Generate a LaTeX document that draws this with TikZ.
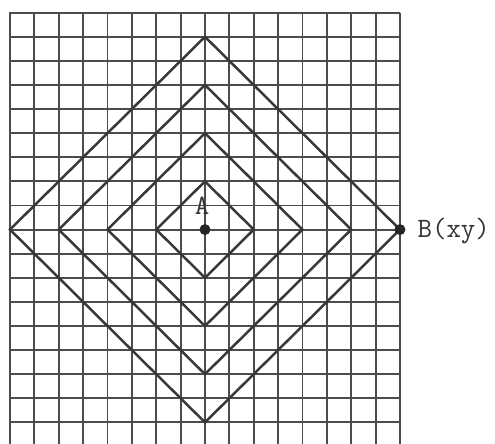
\documentclass[tikz,border=0pt]{standalone}
\begin{document}
\begin{tikzpicture}[x=24.375pt,y=24.1pt,
  gridline/.style={draw=black!70,line width=1.9pt},
  diamondline/.style={draw=black!78,line width=2.5pt,line join=miter},
  dotnode/.style={circle,fill=black!85,inner sep=0pt,minimum size=11pt},
  lbl/.style={font=\ttfamily\fontsize{28}{28}\selectfont,text=black!80,inner sep=0pt}]
\useasboundingbox (-8.41,-8.896) rectangle (11.90,9.527);
\clip (-8.41,-8.896) rectangle (11.90,9.527);
% grid
\foreach \y in {-8,...,9} \draw[gridline] (-8.05,\y) -- (8,\y);
\foreach \x in {-8,...,8} \draw[gridline] (\x,9) -- (\x,-9.2);
% diamonds
\foreach \r in {2,4,6,8}
  \draw[diamondline] (0,\r) -- (\r,0) -- (0,-\r) -- (-\r,0) -- cycle;
% points and labels
\node[dotnode] (A) at (0,0) {};
\node[dotnode] (B) at (8,0) {};
\node[lbl] (Alabel) at (-0.12,0.98) {A};
\node[lbl,anchor=west] (Blabel) at (8.72,-0.05) {B(xy)};
\end{tikzpicture}
\end{document}
